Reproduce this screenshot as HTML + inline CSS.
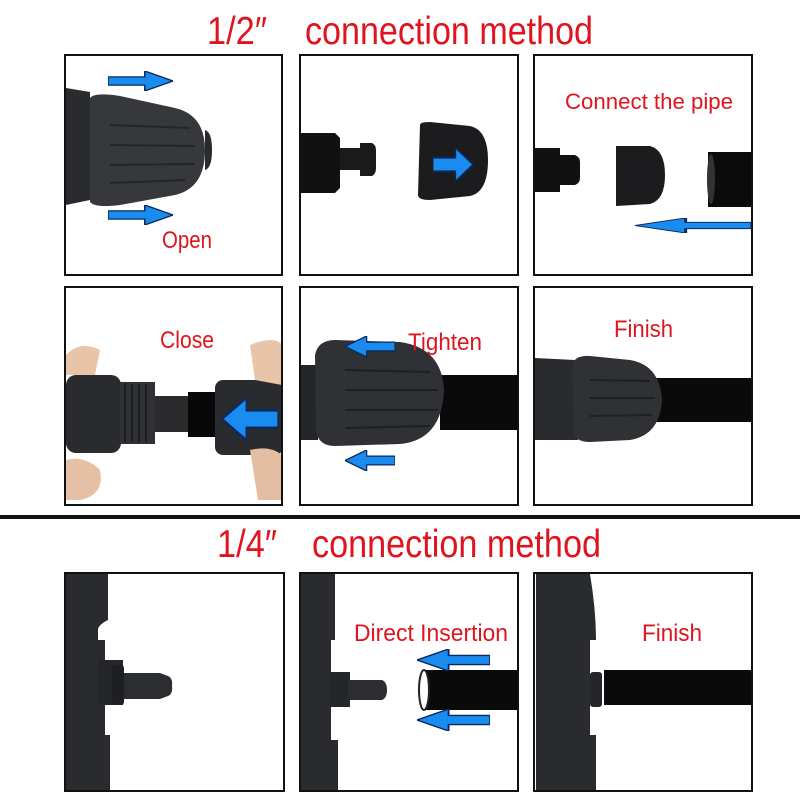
<!DOCTYPE html>
<html><head><meta charset="utf-8"><style>
html,body{margin:0;padding:0;background:#fff;width:800px;height:800px;overflow:hidden}
svg{display:block}
text{font-family:"Liberation Sans",sans-serif;fill:#e0141e}
</style></head><body>
<svg width="800" height="800" viewBox="0 0 800 800" xmlns="http://www.w3.org/2000/svg">
<defs>
<symbol id="ar" viewBox="0 0 60 24" preserveAspectRatio="none"><path d="M0 7H34V0L60 12L34 24V17H0Z" fill="#1a8cf0" stroke="#0a2a60" stroke-width="1.5"/></symbol>
<symbol id="al" viewBox="0 0 60 24" preserveAspectRatio="none"><path d="M60 7H26V0L0 12L26 24V17H60Z" fill="#1a8cf0" stroke="#0a2a60" stroke-width="1.5"/></symbol>
</defs>
<rect width="800" height="800" fill="#fff"/>
<!-- titles -->
<text x="207" y="44" font-size="39" textLength="60" lengthAdjust="spacingAndGlyphs">1/2″</text>
<text x="305" y="44" font-size="39" textLength="288" lengthAdjust="spacingAndGlyphs">connection method</text>
<text x="217" y="557" font-size="39" textLength="60" lengthAdjust="spacingAndGlyphs">1/4″</text>
<text x="312" y="557" font-size="39" textLength="289" lengthAdjust="spacingAndGlyphs">connection method</text>
<rect x="0" y="515" width="800" height="4" fill="#111"/>

<!-- Row1 panel1 -->
<g>
<path d="M66 88 L90 92 L90 200 L66 205Z" fill="#2a2b2e"/>
<path d="M90 98 Q95 92 120 96 L175 108 Q205 115 205 150 Q205 188 175 195 L120 205 Q95 208 90 202Z" fill="#37383c"/>
<path d="M205 130 Q212 132 212 150 Q212 168 205 170Z" fill="#2a2b2e"/>
<g stroke="#24252a" stroke-width="2"><line x1="110" y1="125" x2="190" y2="128"/><line x1="110" y1="145" x2="195" y2="146"/><line x1="110" y1="165" x2="195" y2="164"/><line x1="110" y1="183" x2="185" y2="180"/></g>
<use href="#ar" x="108" y="71" width="65" height="20"/>
<use href="#ar" x="108" y="205" width="65" height="20"/>
<text x="162" y="248" font-size="24" textLength="50" lengthAdjust="spacingAndGlyphs">Open</text>
</g>
<!-- Row1 panel2 -->
<g>
<path d="M301 133 H335 L340 138 V188 L335 193 H301Z" fill="#111"/>
<path d="M340 148 H360 V143 H372 Q376 145 376 150 V168 Q376 174 372 176 H360 V170 H340Z" fill="#1a1a1a"/>
<path d="M420 125 Q420 122 430 122 L470 126 Q488 130 488 160 Q488 192 470 196 L430 200 Q418 200 418 195Z" fill="#1c1c1e"/>
<use href="#ar" x="433" y="148" width="40" height="33"/>
</g>
<!-- Row1 panel3 -->
<g>
<text x="565" y="109" font-size="22" textLength="168" lengthAdjust="spacingAndGlyphs">Connect the pipe</text>
<path d="M535 148 H560 V155 H575 Q580 157 580 162 V178 Q580 183 575 185 H560 V192 H535Z" fill="#111"/>
<path d="M616 146 L650 146 Q665 150 665 175 Q665 200 650 204 L616 206Z" fill="#1c1c1e"/>
<rect x="708" y="152" width="44" height="55" fill="#0b0b0b"/>
<ellipse cx="711" cy="179" rx="4" ry="25" fill="#333"/>
<use href="#al" x="635" y="218" width="117" height="15"/>
</g>

<!-- Row2 panel1 -->
<g>
<path d="M66 355 Q80 340 100 350 L95 375 L66 375Z" fill="#e8c4a8"/>
<path d="M66 460 Q85 455 100 470 Q105 495 80 500 L66 500Z" fill="#e6c0a4"/>
<rect x="66" y="375" width="55" height="78" rx="10" fill="#2a2b2e"/>
<rect x="120" y="382" width="35" height="62" fill="#303135"/>
<g stroke="#1d1e20" stroke-width="2"><line x1="125" y1="384" x2="125" y2="442"/><line x1="132" y1="384" x2="132" y2="442"/><line x1="139" y1="384" x2="139" y2="442"/><line x1="146" y1="384" x2="146" y2="442"/></g>
<rect x="155" y="396" width="35" height="36" fill="#2b2b2e"/>
<rect x="188" y="392" width="30" height="45" fill="#080808"/>
<rect x="215" y="380" width="68" height="75" rx="8" fill="#2a2b2e"/>
<path d="M250 345 Q275 335 282 345 L282 385 L255 380Z" fill="#e8c4a8"/>
<path d="M250 450 Q270 445 282 455 L282 500 L258 500Z" fill="#e4bea2"/>
<use href="#al" x="222" y="398" width="56" height="42"/>
<text x="160" y="348" font-size="24" textLength="54" lengthAdjust="spacingAndGlyphs">Close</text>
</g>
<!-- Row2 panel2 -->
<g>
<rect x="440" y="375" width="78" height="55" fill="#0a0a0a"/>
<path d="M301 365 H318 V440 H301Z" fill="#25262a"/>
<path d="M315 355 Q318 340 335 340 L400 342 Q442 348 444 390 Q442 440 400 444 L335 446 Q318 446 316 430Z" fill="#303135"/>
<g stroke="#1f2023" stroke-width="2"><line x1="345" y1="370" x2="430" y2="372"/><line x1="345" y1="390" x2="438" y2="390"/><line x1="345" y1="410" x2="438" y2="410"/><line x1="345" y1="428" x2="430" y2="426"/></g>
<use href="#al" x="345" y="336" width="50" height="21"/>
<use href="#al" x="345" y="450" width="50" height="21"/>
<text x="408" y="350" font-size="24" textLength="74" lengthAdjust="spacingAndGlyphs">Tighten</text>
</g>
<!-- Row2 panel3 -->
<g>
<rect x="650" y="378" width="102" height="44" fill="#0a0a0a"/>
<path d="M535 358 L575 360 L578 440 L535 440Z" fill="#2a2b2e"/>
<path d="M572 365 Q575 355 590 356 L630 360 Q660 365 662 400 Q660 435 630 440 L590 442 Q575 442 574 432Z" fill="#303135"/>
<g stroke="#1f2023" stroke-width="2"><line x1="590" y1="380" x2="650" y2="381"/><line x1="590" y1="398" x2="655" y2="398"/><line x1="590" y1="416" x2="652" y2="415"/></g>
<text x="614" y="337" font-size="24" textLength="59" lengthAdjust="spacingAndGlyphs">Finish</text>
</g>

<!-- Row3 panel1 -->
<g>
<path d="M66 574 H108 V620 Q98 625 98 630 V640 H105 V735 H110 V790 H66Z" fill="#2a2b2e"/>
<rect x="98" y="660" width="25" height="45" fill="#25262a"/>
<rect x="112" y="665" width="12" height="40" rx="3" fill="#1e1f22"/>
<path d="M124 673 H160 L168 676 Q173 678 172 686 Q173 694 168 696 L160 699 H124Z" fill="#2c2d30"/>
</g>
<!-- Row3 panel2 -->
<g>
<path d="M301 574 H335 V640 H331 V740 H338 V790 H301Z" fill="#2a2b2e"/>
<rect x="330" y="672" width="20" height="35" fill="#25262a"/>
<path d="M348 680 H382 Q387 682 387 690 Q387 698 382 700 H348Z" fill="#2c2d30"/>
<rect x="422" y="670" width="96" height="40" fill="#0a0a0a"/>
<ellipse cx="424" cy="690" rx="5" ry="20" fill="#fff" stroke="#222" stroke-width="2"/>
<use href="#al" x="417" y="649" width="73" height="22"/>
<use href="#al" x="417" y="709" width="73" height="22"/>
<text x="354" y="641" font-size="24" textLength="154" lengthAdjust="spacingAndGlyphs">Direct Insertion</text>
</g>
<!-- Row3 panel3 -->
<g>
<path d="M536 574 H590 Q596 610 596 640 H590 V735 H596 V790 H536Z" fill="#2a2b2e"/>
<rect x="590" y="672" width="12" height="35" rx="3" fill="#25262a"/>
<rect x="604" y="670" width="148" height="35" fill="#0a0a0a"/>
<text x="642" y="641" font-size="24" textLength="60" lengthAdjust="spacingAndGlyphs">Finish</text>
</g>

<!-- frames -->
<g fill="none" stroke="#111" stroke-width="2">
<rect x="65" y="55" width="217" height="220"/><rect x="300" y="55" width="218" height="220"/><rect x="534" y="55" width="218" height="220"/>
<rect x="65" y="287" width="217" height="218"/><rect x="300" y="287" width="218" height="218"/><rect x="534" y="287" width="218" height="218"/>
<rect x="65" y="573" width="219" height="218"/><rect x="300" y="573" width="218" height="218"/><rect x="534" y="573" width="218" height="218"/>
</g>
</svg>
</body></html>
